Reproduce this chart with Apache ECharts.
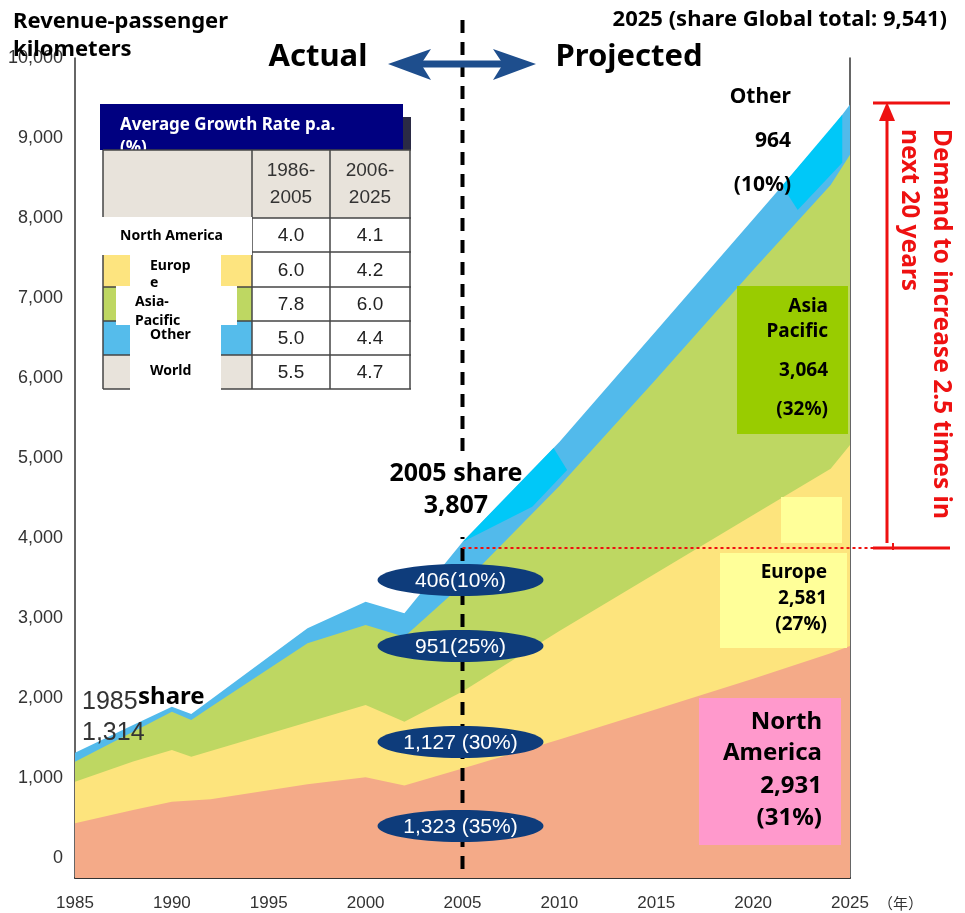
<!DOCTYPE html>
<html>
<head>
<meta charset="utf-8">
<script src="https://cdn.jsdelivr.net/npm/echarts@6/dist/echarts.min.js"></script>
<style>html,body{margin:0;padding:0;background:#fff}#c{width:965px;height:913px}</style>
</head>
<body>
<div id="c"></div>
<script>
// ---- data ----
const years        = [1985, 1988, 1990, 1991, 1992, 1997, 2000, 2002, 2005, 2010, 2015, 2020, 2024, 2025];
const northAmerica = [ 433,  600,  704,  718,  733,  922, 1010,  905, 1120, 1480, 1860, 2240, 2560, 2650];
const europe       = [ 521,  607,  646,  549,  606,  775,  902,  799,  960, 1357, 1703, 2048, 2306, 2512];
const asiaPacific  = [ 250,  372,  479,  458,  550,  986, 1000, 1063, 1340, 1813, 2424, 3062, 3546, 3628];
const other        = [ 112,   82,   62,   75,   89,  188,  292,  291,  530,  550,  603,  635,  688,  630];

// bright cyan highlight patches on the "Other" band, in [year, value] space
const cyanPatchA = [[2005, 3950], [2009.7, 5125], [2010.4, 4850], [2008.6, 4390]];
const cyanPatchB = [[2021.5, 8403], [2024.6, 9292], [2024.6, 8690], [2022.3, 8100]];

// table
const tableRegions  = ['North America', 'Europ\ne', 'Asia-\nPacific', 'Other', 'World'];
const periodLabels  = ['1986-\n2005', '2006-\n2025'];
const growth8605    = [4.0, 6.0, 7.8, 5.0, 5.5];
const growth0625    = [4.1, 4.2, 6.0, 4.4, 4.7];

// annotation labels
const share2005Labels = ['406(10%)', '951(25%)', '1,127 (30%)', '1,323 (35%)'];
const share2025Other  = ['Other', '964', '(10%)'];
const share2025Asia   = ['Asia', 'Pacific', '3,064', '(32%)'];
const share2025Europe = ['Europe', '2,581', '(27%)'];
const share2025NA     = ['North', 'America', '2,931', '(31%)'];

const colNA = '#F4AA88', colEU = '#FDE47D', colAP = '#BED762', colOT = '#52BAEB';

const chart = echarts.init(document.getElementById('c'), null, {renderer: 'canvas'});

// stack the layers (cumulative tops), drawn top layer first, each filled down to the axis start
const layers = [northAmerica, europe, asiaPacific, other];
const cumulative = layers.map((_, k) => years.map((y, i) => {
  let s = 0; for (let j = 0; j <= k; j++) s += layers[j][i]; return [y, s];
}));
const names = ['North America', 'Europe', 'Asia-Pacific', 'Other'];
const colors = [colNA, colEU, colAP, colOT];
const series = [3, 2, 1, 0].map(k => ({
  name: names[k], type: 'line', data: cumulative[k], symbol: 'none', showSymbol: false,
  lineStyle: {width: 0, opacity: 0}, itemStyle: {color: colors[k]},
  areaStyle: {color: colors[k], opacity: 1, origin: 'start'},
  emphasis: {disabled: true}, silent: true
}));

chart.setOption({
  animation: false,
  backgroundColor: '#fff',
  grid: {left: 75, right: 115, top: 58, bottom: 35, outerBoundsMode: 'none', containLabel: false},
  xAxis: {
    type: 'value', min: 1985, max: 2025, interval: 5,
    axisLine: {show: true, onZero: false, lineStyle: {color: '#333', width: 2}},
    axisTick: {show: false}, splitLine: {show: false},
    axisLabel: {color: '#333', fontSize: 17, fontFamily: 'Liberation Sans', margin: 17, formatter: v => String(v)}
  },
  yAxis: [{
    type: 'value', min: -250, max: 10000, interval: 250,
    axisLine: {show: true, onZero: false, lineStyle: {color: '#333', width: 1.5}},
    axisTick: {show: false}, splitLine: {show: false},
    axisLabel: {color: '#333', fontSize: 18, fontFamily: 'Liberation Sans', margin: 12,
      formatter: v => (v >= 0 && v % 1000 === 0) ? v.toLocaleString('en-US') : ''}
  }, {
    type: 'value', position: 'right', min: -250, max: 10000, interval: 250,
    axisLine: {show: true, onZero: false, lineStyle: {color: '#333', width: 1.5}},
    axisTick: {show: false}, splitLine: {show: false}, axisLabel: {show: false}
  }],
  series
});

// ---- annotations ----
const px = v => chart.convertToPixel({xAxisIndex: 0}, v);
const py = v => chart.convertToPixel({yAxisIndex: 0}, v);
const toPx = p => chart.convertToPixel({xAxisIndex: 0, yAxisIndex: 0}, p);
const x05 = px(2005), yBot = py(-250);

const G = [];
const T = (x, y, text, font, o = {}) => G.push({type: 'text', x, y, rotation: o.rot || 0,
  style: {text, font, fill: o.fill || '#000', align: o.align || 'left', verticalAlign: o.va || 'middle',
          textAlign: o.align || 'left', textVerticalAlign: o.va || 'middle', lineHeight: o.lh}});
const R = (x, y, w, h, fill) => G.push({type: 'rect', shape: {x, y, width: w, height: h}, style: {fill}});
const L = (x1, y1, x2, y2, stroke, lw, dash) => G.push({type: 'line', shape: {x1, y1, x2, y2},
  style: {stroke, lineWidth: lw, lineDash: dash || null}});
const P = (pts, fill) => G.push({type: 'polygon', shape: {points: pts}, style: {fill}});
const E = (cx, cy, rx, ry, fill) => G.push({type: 'ellipse', shape: {cx, cy, rx, ry}, style: {fill}});

const BOLD = f => `bold ${f}px "Noto Sans", "DejaVu Sans", sans-serif`;
const ARIAL = f => `${f}px "Liberation Sans", Arial, sans-serif`;

// cyan highlight patches
P(cyanPatchA.map(toPx), '#00C8F8');
P(cyanPatchB.map(toPx), '#00C8F8');

// dashed 2005 divider
L(x05, 20, x05, yBot, '#000', 4, [13, 9]);
// white box behind "2005 share"
R(388, 451, 78, 86, '#fff');
T(456, 474, '2005 share', BOLD(25), {align: 'center'});
T(456, 506, '3,807', BOLD(25), {align: 'center'});

// 2005 ellipses
const ellY = [580, 646, 742, 826];
share2005Labels.forEach((s, i) => {
  E(x05 - 2, ellY[i], 83, 16, '#0E3C7B');
  T(x05 - 2, ellY[i] + 1, s, ARIAL(21), {align: 'center', fill: '#fff'});
});

// red demand annotation
const RED = '#EE1111';
L(x05, 548, 873, 548, RED, 2, [3, 3]);
L(873, 548, 950, 548, RED, 3);
L(893, 543, 893, 550, RED, 2);
L(873, 103, 950, 103, RED, 3);
L(887, 115, 887, 543, RED, 3);
P([[887, 102], [879, 121], [895, 121]], RED);
T(941, 129, 'Demand to increase 2.5 times in', BOLD(24.5), {rot: -Math.PI / 2, fill: RED});
T(909, 129, 'next 20 years', BOLD(24.5), {rot: -Math.PI / 2, fill: RED});

// titles
T(13, 22, 'Revenue-passenger', BOLD(22));
T(13, 50, 'kilometers', BOLD(22));
T(318, 57, 'Actual', BOLD(31), {align: 'center'});
T(629, 57, 'Projected', BOLD(31), {align: 'center'});
T(947, 20, '2025 (share Global total: 9,541)', BOLD(22), {align: 'right'});
// double arrow
const BL = '#1E4E8D';
L(412, 64, 512, 64, BL, 7);
P([[388, 64], [431, 49], [421, 64], [431, 80]], BL);
P([[536, 64], [493, 49], [503, 64], [493, 80]], BL);

// 1985 share
T(82, 702, '1985', ARIAL(25), {fill: '#333'});
T(138, 697, 'share', BOLD(24));
T(82, 733, '1,314', ARIAL(25), {fill: '#333'});

// 2025 right labels
const otherY = [97, 141, 185];
share2025Other.forEach((s, i) => T(791, otherY[i], s, BOLD(21), {align: 'right'}));
R(737, 286, 111, 148, '#99CC00');
const asiaY = [307, 332, 371, 410];
share2025Asia.forEach((s, i) => T(828, asiaY[i], s, BOLD(19), {align: 'right'}));
R(781, 497, 61, 46, '#FFFF99');
R(720, 553, 127, 95, '#FFFF99');
const euY = [573, 599, 625];
share2025Europe.forEach((s, i) => T(827, euY[i], s, BOLD(19), {align: 'right'}));
R(699, 698, 142, 147, '#FF99CC');
const naY = [722, 753, 786, 818];
share2025NA.forEach((s, i) => T(822, naY[i], s, BOLD(24), {align: 'right'}));
T(878, 903, '（年）', '15px "Noto Sans CJK JP", sans-serif', {fill: '#333'});

// ---- growth table ----
const colX = [103, 252, 330, 410];
const rowY = [150, 218, 252, 287, 321, 355, 389];
const BEIGE = '#E8E3DB';
R(100, 104, 303, 46, '#000080');
R(403, 117, 8, 33, '#2A2A44');
T(120, 125, 'Average Growth Rate p.a.', BOLD(17), {fill: '#fff'});
T(120, 148, '(%)', BOLD(17), {fill: '#fff'});
R(colX[0], rowY[0], colX[3] - colX[0], rowY[1] - rowY[0], BEIGE);
const labelFills = [colNA, '#FDE47F', colAP, '#55BCEB', BEIGE];
labelFills.forEach((f, i) => R(colX[0], rowY[i + 1], colX[1] - colX[0], rowY[i + 2] - rowY[i + 1], f));
rowY.forEach(y => L(colX[0], y, colX[3] + 1, y, '#444', 1.5));
colX.forEach(x => L(x, rowY[0], x, rowY[6], '#444', 1.5));
periodLabels.forEach((s, j) => T((colX[j + 1] + colX[j + 2]) / 2, 184, s, ARIAL(19), {align: 'center', fill: '#333', lh: 27}));
[growth8605, growth0625].forEach((col, j) => col.forEach((v, i) =>
  T((colX[j + 1] + colX[j + 2]) / 2, (rowY[i + 1] + rowY[i + 2]) / 2 + 1, v.toFixed(1), ARIAL(19), {align: 'center', fill: '#222'})));
// white label overlays
R(100, 217, 152, 38, '#fff');
R(130, 255, 91, 32, '#fff');
R(116, 286, 121, 39, '#fff');
R(130, 325, 91, 65, '#fff');
T(120, 236, tableRegions[0], BOLD(14));
T(150, 275, tableRegions[1], BOLD(14), {lh: 17});
T(135, 312, tableRegions[2], BOLD(14), {lh: 19});
T(150, 335, tableRegions[3], BOLD(14));
T(150, 371, tableRegions[4], BOLD(14));

chart.setOption({graphic: {elements: G.map((g, i) => Object.assign(g, {z: 50, z2: i, silent: true}))}});
</script>
</body>
</html>
